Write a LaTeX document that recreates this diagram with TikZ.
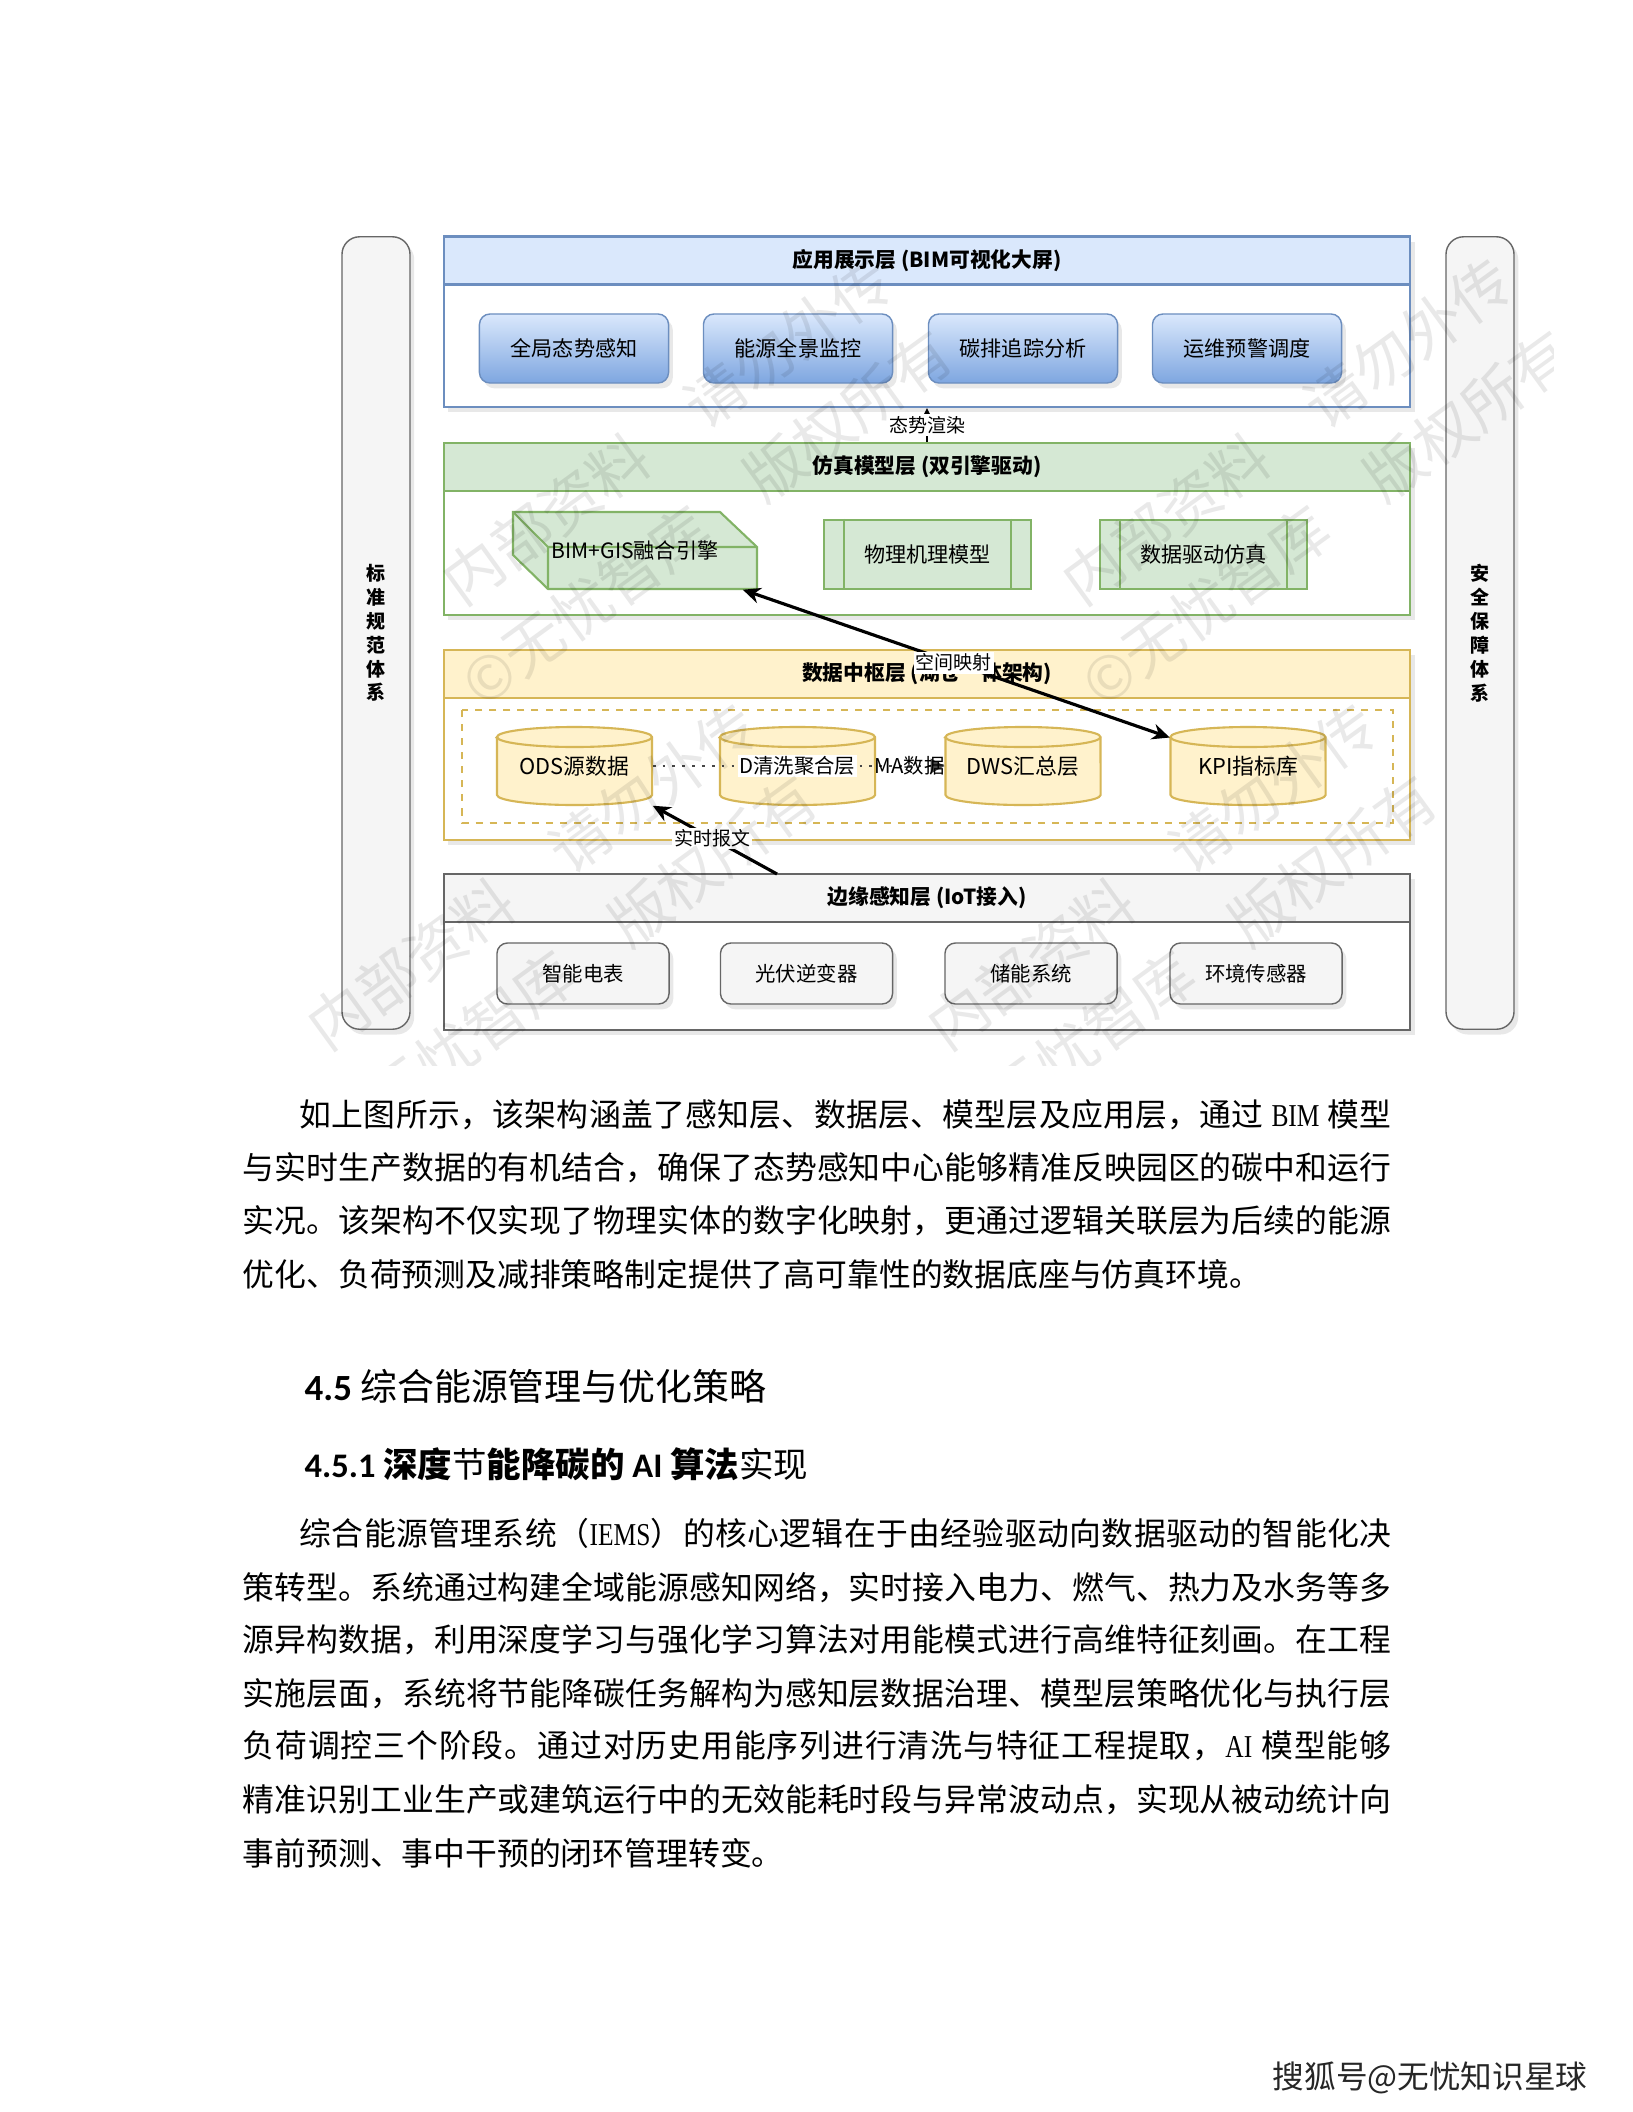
\documentclass[tikz,border=0pt]{standalone}
\usepackage{fontspec}
\setmainfont{Noto Sans CJK SC}
\newfontfamily\serifLatin[FakeStretch=0.8]{Liberation Serif}
\newfontfamily\headLatin{Carlito}
\usetikzlibrary{arrows.meta,shadows,calc}

\definecolor{appfill}{HTML}{DAE8FC}
\definecolor{appdark}{HTML}{7EA6E0}
\definecolor{appline}{HTML}{6C8EBF}
\definecolor{simfill}{HTML}{D5E8D4}
\definecolor{simline}{HTML}{82B366}
\definecolor{datfill}{HTML}{FFF2CC}
\definecolor{datline}{HTML}{D6B656}
\definecolor{edgfill}{HTML}{F5F5F5}
\definecolor{edgline}{HTML}{666666}

% one justified line: every character gets the same stretch
\ExplSyntaxOn
\NewDocumentCommand{\spreadline}{mm}{\hbox~to~#1{\tl_map_inline:nn{#2}{{##1}\hfil}\unskip}}
\ExplSyntaxOff

% cylinder of the data layer: name, centre x, centre y, text
\newcommand{\datadrum}[4]{%
  \filldraw[draw=datline, fill=datfill, line width=0.6pt]
    (#2-77.5,#3-29) -- (#2-77.5,#3+29)
    arc[start angle=180, end angle=360, x radius=0.775cm, y radius=0.1cm]
    -- (#2+77.5,#3-29)
    arc[start angle=0, end angle=180, x radius=0.775cm, y radius=0.1cm] -- cycle;
  \draw[datline, line width=0.6pt] (#2-77.5,#3-29)
    arc[start angle=180, end angle=360, x radius=0.775cm, y radius=0.1cm];
  \node[drumtext] (#1) at (#2,#3) {#4};
}

\begin{document}
\begin{tikzpicture}[x=0.01cm, y=-0.01cm,
  soft/.style={drop shadow={shadow xshift=1.2pt, shadow yshift=-1.5pt, opacity=0.18}},
  lay/.style={draw=#1, line width=0.6pt, fill=white, minimum width=9.66cm, inner sep=0pt, soft},
  head/.style 2 args={draw=#2, fill=#1, line width=0.6pt, minimum width=9.66cm, minimum height=0.48cm,
    inner sep=0pt, font=\fontsize{5.9pt}{7pt}\selectfont\bfseries},
  appitem/.style={draw=appline, top color=appfill, bottom color=appdark, rounded corners=3pt,
    minimum width=1.89cm, minimum height=0.69cm, font=\fontsize{6pt}{7pt}\selectfont, soft},
  simitem/.style={draw=simline, fill=simfill, line width=0.6pt, minimum width=2.07cm, minimum height=0.69cm,
    inner sep=0pt, font=\fontsize{6pt}{7pt}\selectfont},
  drumtext/.style={minimum width=1.55cm, minimum height=0.78cm, inner sep=0pt, font=\fontsize{6.2pt}{7pt}\selectfont},
  edgitem/.style={draw=edgline, fill=edgfill, rounded corners=3pt, minimum width=1.72cm, minimum height=0.61cm,
    font=\fontsize{5.8pt}{7pt}\selectfont, soft},
  sidebar/.style={draw=edgline, fill=edgfill, rounded corners=5pt, minimum width=0.68cm, minimum height=7.92cm,
    align=center, font=\fontsize{5.4pt}{6.8pt}\selectfont\bfseries, soft},
  tag/.style={fill=white, inner sep=0.6pt, font=\fontsize{5.4pt}{6pt}\selectfont},
  conn/.style={line width=0.9pt, -{Stealth[length=5pt,width=4.5pt]}},
  body/.style={anchor=west, inner sep=0pt, font=\fontsize{9.05pt}{9.05pt}\selectfont},
  wmark/.style={rotate=36, opacity=0.085, inner sep=0pt, font=\fontsize{17pt}{17pt}\selectfont}]

\fill[white] (0,0) rectangle (1632,2112);
\useasboundingbox (0,0) rectangle (1632,2112);

% side bars
\node[sidebar] (stdbar) at (376,633) {标\\准\\规\\范\\体\\系};
\node[sidebar] (secbar) at (1480,633) {安\\全\\保\\障\\体\\系};

% application layer
\node[lay=appline, minimum height=1.70cm] (applayer) at (927,322) {};
\node[head={appfill}{appline}] (apphead) at (927,260.5) {应用展示层 (BIM可视化大屏)};
\node[appitem] (situ) at (574,348.5) {全局态势感知};
\node[appitem] (monitor) at (798,348.5) {能源全景监控};
\node[appitem] (carbon) at (1023,348.5) {碳排追踪分析};
\node[appitem] (ops) at (1247,348.5) {运维预警调度};

% simulation layer
\node[lay=simline, minimum height=1.72cm] (simlayer) at (927,529) {};
\node[head={simfill}{simline}] (simhead) at (927,467) {仿真模型层 (双引擎驱动)};
\filldraw[draw=simline, fill=simfill, line width=0.6pt]
  (513,512) -- (720,512) -- (757,547) -- (757,589) -- (548,589) -- (513,555) -- cycle;
\draw[simline, line width=0.6pt] (513,512) -- (548,547) -- (757,547) (548,547) -- (548,589);
\node[inner sep=0pt, minimum width=2.44cm, minimum height=0.77cm, font=\fontsize{6pt}{7pt}\selectfont]
  (bim) at (635,550.5) {BIM+GIS融合引擎};
\node[simitem] (phys) at (927.5,554.5) {物理机理模型};
\draw[simline, line width=0.6pt] ($(phys.north west)+(21,0)$) -- ($(phys.south west)+(21,0)$)
  ($(phys.north east)+(-21,0)$) -- ($(phys.south east)+(-21,0)$);
\node[simitem] (datasim) at (1203.5,554.5) {数据驱动仿真};
\draw[simline, line width=0.6pt] ($(datasim.north west)+(21,0)$) -- ($(datasim.south west)+(21,0)$)
  ($(datasim.north east)+(-21,0)$) -- ($(datasim.south east)+(-21,0)$);

% data layer
\node[lay=datline, minimum height=1.90cm] (datlayer) at (927,745) {};
\node[head={datfill}{datline}] (dathead) at (927,674) {数据中枢层 (湖仓一体架构)};
\draw[datline, line width=0.6pt, dash pattern=on 2pt off 2pt] (462,710) rectangle (1393,823);
\datadrum{ods}{574.5}{766}{ODS源数据}
\datadrum{dwd}{797.5}{766}{}
\datadrum{dws}{1023}{766}{DWS汇总层}
\datadrum{kpi}{1248}{766}{KPI指标库}

% edge layer
\node[lay=edgline, minimum height=1.56cm] (edglayer) at (927,952) {};
\node[head={edgfill}{edgline}] (edghead) at (927,898) {边缘感知层 (IoT接入)};
\node[edgitem] (meter) at (583,973.5) {智能电表};
\node[edgitem] (pv) at (806.5,973.5) {光伏逆变器};
\node[edgitem] (storage) at (1031,973.5) {储能系统};
\node[edgitem] (sensor) at (1256,973.5) {环境传感器};
\coordinate (rtin) at (777,874);

% connectors
\draw[line width=0.5pt, -{Stealth[length=2.5pt,width=2.5pt]}] (simhead.north) -- node[tag] (render) {态势渲染} (applayer.south);
\draw[line width=0.8pt, edgline!70!black, dotted, -{Triangle[length=4pt,width=4pt]}] (ods.east) --
  node[pos=0.495, fill=white, inner sep=0.5pt, text=black, font=\fontsize{5.8pt}{7pt}\selectfont] (clean) {D清洗聚合层}
  node[pos=0.88, inner sep=0pt, text=black, font=\fontsize{5.8pt}{7pt}\selectfont] (mart) {MA数据} (dws.west);
\draw[line width=0.9pt, {Stealth[length=5pt,width=4.5pt]}-{Stealth[length=5pt,width=4.5pt]}] (bim.-20) --
  node[pos=0.494, tag] (spatial) {空间映射} (kpi.160);
\draw[conn] (rtin) -- node[pos=0.52, tag] (packet) {实时报文} (ods.south east);

% text below the figure
\node[body] (p1a) at (299,1115) {\spreadline{10.91cm}{如上图所示，该架构涵盖了感知层、数据层、模型层及应用层，通过{\ }{\serifLatin BIM}{\ }模型}};
\node[body] (p1b) at (242,1167.5) {\spreadline{11.48cm}{与实时生产数据的有机结合，确保了态势感知中心能够精准反映园区的碳中和运行}};
\node[body] (p1c) at (242,1221) {\spreadline{11.48cm}{实况。该架构不仅实现了物理实体的数字化映射，更通过逻辑关联层为后续的能源}};
\node[body] (p1d) at (242,1274) {优化、负荷预测及减排策略制定提供了高可靠性的数据底座与仿真环境。};

\node[anchor=west, inner sep=0pt, font=\fontsize{10.5pt}{10.5pt}\selectfont] (h1) at (304,1386)
  {{\headLatin\bfseries 4.5} 综合能源管理与优化策略};
\node[anchor=west, inner sep=0pt, font=\fontsize{9.8pt}{9.8pt}\selectfont] (h2) at (304,1464)
  {{\headLatin\bfseries 4.5.1} {\bfseries 深度}节{\bfseries 能降碳的 {\headLatin AI} 算法}实现};

\node[body] (p2a) at (299,1533.6) {\spreadline{10.91cm}{综合能源管理系统（{\serifLatin IEMS}）的核心逻辑在于由经验驱动向数据驱动的智能化决}};
\node[body] (p2b) at (242,1587.5) {\spreadline{11.48cm}{策转型。系统通过构建全域能源感知网络，实时接入电力、燃气、热力及水务等多}};
\node[body] (p2c) at (242,1640) {\spreadline{11.48cm}{源异构数据，利用深度学习与强化学习算法对用能模式进行高维特征刻画。在工程}};
\node[body] (p2d) at (242,1694) {\spreadline{11.48cm}{实施层面，系统将节能降碳任务解构为感知层数据治理、模型层策略优化与执行层}};
\node[body] (p2e) at (242,1746) {\spreadline{11.48cm}{负荷调控三个阶段。通过对历史用能序列进行清洗与特征工程提取，{\serifLatin AI}{\ }模型能够}};
\node[body] (p2f) at (242,1800) {\spreadline{11.48cm}{精准识别工业生产或建筑运行中的无效能耗时段与异常波动点，实现从被动统计向}};
\node[body] (p2g) at (242,1853) {事前预测、事中干预的闭环管理转变。};

\node[anchor=west, inner sep=0pt, text=black!85, font=\fontsize{9pt}{9pt}\selectfont] (credit) at (1272,2078) {搜狐号@无忧知识星球};

% watermark over the figure
\begin{scope}
\clip (303,189) rectangle (1553,1065);
\foreach \ax/\ay [count=\k] in {667/431, 1287/431, 532/876, 1152/876}{
  \node[wmark] (wma\k) at (\ax,\ay) {内部资料　请勿外传};
  \node[wmark] (wmb\k) at (\ax+40,\ay+87) {©无忧智库　版权所有};
}
\end{scope}
\end{tikzpicture}
\end{document}
